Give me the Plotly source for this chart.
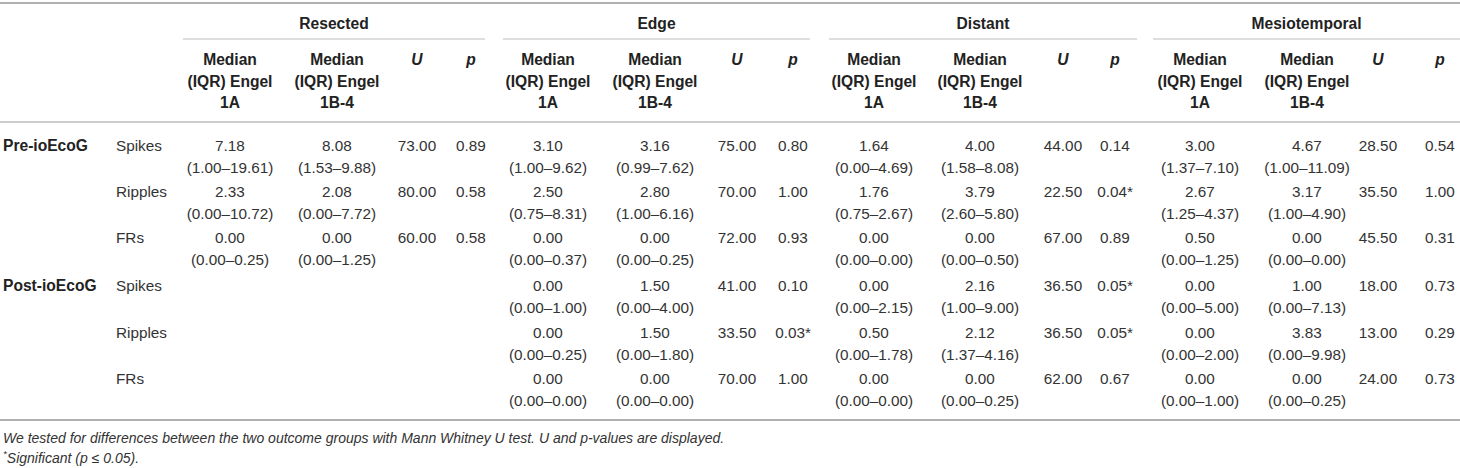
import plotly.graph_objects as go

# ---------------- data ----------------
regions = ["Resected", "Edge", "Distant", "Mesiotemporal"]
phases = ["Pre-ioEcoG", "Post-ioEcoG"]
measures = ["Spikes", "Ripples", "FRs", "Spikes", "Ripples", "FRs"]
sub_headers = [["Median", "(IQR) Engel", "1A"], ["Median", "(IQR) Engel", "1B-4"]]
stat_headers = ["U", "p"]

resected_med_1a = ["7.18", "2.33", "0.00", "", "", ""]
resected_iqr_1a = ["1.00–19.61", "0.00–10.72", "0.00–0.25", "", "", ""]
resected_med_1b = ["8.08", "2.08", "0.00", "", "", ""]
resected_iqr_1b = ["1.53–9.88", "0.00–7.72", "0.00–1.25", "", "", ""]
resected_u = ["73.00", "80.00", "60.00", "", "", ""]
resected_p = ["0.89", "0.58", "0.58", "", "", ""]

edge_med_1a = ["3.10", "2.50", "0.00", "0.00", "0.00", "0.00"]
edge_iqr_1a = ["1.00–9.62", "0.75–8.31", "0.00–0.37", "0.00–1.00", "0.00–0.25", "0.00–0.00"]
edge_med_1b = ["3.16", "2.80", "0.00", "1.50", "1.50", "0.00"]
edge_iqr_1b = ["0.99–7.62", "1.00–6.16", "0.00–0.25", "0.00–4.00", "0.00–1.80", "0.00–0.00"]
edge_u = ["75.00", "70.00", "72.00", "41.00", "33.50", "70.00"]
edge_p = ["0.80", "1.00", "0.93", "0.10", "0.03*", "1.00"]

distant_med_1a = ["1.64", "1.76", "0.00", "0.00", "0.50", "0.00"]
distant_iqr_1a = ["0.00–4.69", "0.75–2.67", "0.00–0.00", "0.00–2.15", "0.00–1.78", "0.00–0.00"]
distant_med_1b = ["4.00", "3.79", "0.00", "2.16", "2.12", "0.00"]
distant_iqr_1b = ["1.58–8.08", "2.60–5.80", "0.00–0.50", "1.00–9.00", "1.37–4.16", "0.00–0.25"]
distant_u = ["44.00", "22.50", "67.00", "36.50", "36.50", "62.00"]
distant_p = ["0.14", "0.04*", "0.89", "0.05*", "0.05*", "0.67"]

meso_med_1a = ["3.00", "2.67", "0.50", "0.00", "0.00", "0.00"]
meso_iqr_1a = ["1.37–7.10", "1.25–4.37", "0.00–1.25", "0.00–5.00", "0.00–2.00", "0.00–1.00"]
meso_med_1b = ["4.67", "3.17", "0.00", "1.00", "3.83", "0.00"]
meso_iqr_1b = ["1.00–11.09", "1.00–4.90", "0.00–0.00", "0.00–7.13", "0.00–9.98", "0.00–0.25"]
meso_u = ["28.50", "35.50", "45.50", "18.00", "13.00", "24.00"]
meso_p = ["0.54", "1.00", "0.31", "0.73", "0.29", "0.73"]

footnote_1 = "We tested for differences between the two outcome groups with Mann Whitney U test. U and p-values are displayed."
footnote_2 = "<sup>*</sup>Significant (p ≤ 0.05)."

region_data = [
    (resected_med_1a, resected_iqr_1a, resected_med_1b, resected_iqr_1b, resected_u, resected_p),
    (edge_med_1a, edge_iqr_1a, edge_med_1b, edge_iqr_1b, edge_u, edge_p),
    (distant_med_1a, distant_iqr_1a, distant_med_1b, distant_iqr_1b, distant_u, distant_p),
    (meso_med_1a, meso_iqr_1a, meso_med_1b, meso_iqr_1b, meso_u, meso_p),
]

# ---------------- layout constants ----------------
W, H = 1460, 468
FONT = "Liberation Sans, Arial, Helvetica, sans-serif"
TXT = "#333333"
HDR = "#222222"
LINE = "#bdbdbd"
FS = 15.3
FS_HDR = 15.6
FS_NOTE = 14
DY = 2  # small vertical correction for text anchoring

col_1a = [230, 548, 874, 1200]
col_1b = [337, 655, 980, 1307]
col_u = [417, 737, 1063, 1378]
col_p = [471, 793, 1115, 1440]
group_line = [(183, 485), (503, 810), (829, 1137), (1153, 1460)]
y_group = 23
y_sub = [59, 81, 102]
row_y = [145, 191, 237, 285, 332, 378]
iqr_dy = 22
x_phase = 3
x_measure = 116

fig = go.Figure()


def add_text(xs, ys, texts, anchor="middle center", size=FS, color=TXT, weight="normal", style="normal"):
    pts = [(x, y + DY, t) for x, y, t in zip(xs, ys, texts) if t]
    if not pts:
        return
    fig.add_trace(go.Scatter(
        x=[p[0] for p in pts], y=[p[1] for p in pts], text=[p[2] for p in pts],
        mode="text", textposition=anchor,
        textfont=dict(family=FONT, size=size, color=color, weight=weight, style=style),
        hoverinfo="skip", showlegend=False, cliponaxis=False,
    ))


# group headers
add_text([(a + b) / 2 for a, b in group_line], [y_group] * 4, regions, size=FS_HDR, weight="bold", color=HDR)

# sub headers
for g in range(4):
    for k in range(3):
        add_text([col_1a[g], col_1b[g]], [y_sub[k]] * 2,
                 [sub_headers[0][k], sub_headers[1][k]], size=FS_HDR, weight="bold", color=HDR)
    add_text([col_u[g], col_p[g]], [y_sub[0]] * 2, stat_headers, size=FS_HDR,
             weight="bold", style="italic", color=HDR)

# row labels
add_text([x_phase, x_phase], [row_y[0], row_y[3]], phases, anchor="middle right",
         size=FS_HDR, weight="bold", color=HDR)
add_text([x_measure] * 6, row_y, measures, anchor="middle right")

# body
for g, (m1, i1, m2, i2, u, p) in enumerate(region_data):
    add_text([col_1a[g]] * 6, row_y, m1)
    add_text([col_1a[g]] * 6, [y + iqr_dy for y in row_y], [f"({v})" if v else "" for v in i1])
    add_text([col_1b[g]] * 6, row_y, m2)
    add_text([col_1b[g]] * 6, [y + iqr_dy for y in row_y], [f"({v})" if v else "" for v in i2])
    add_text([col_u[g]] * 6, row_y, u)
    add_text([col_p[g]] * 6, row_y, p)

# footnotes
add_text([x_phase], [437], [footnote_1], anchor="middle right", size=FS_NOTE, style="italic")
add_text([x_phase], [457], [footnote_2], anchor="middle right", size=FS_NOTE, style="italic")

# rules
shapes = [
    dict(type="line", x0=0, x1=W, y0=3, y1=3, line=dict(color="#b0b0b0", width=2)),
    dict(type="line", x0=0, x1=W, y0=122, y1=122, line=dict(color=LINE, width=1.5)),
    dict(type="line", x0=0, x1=W, y0=420, y1=420, line=dict(color="#b0b0b0", width=2)),
]
for a, b in group_line:
    shapes.append(dict(type="line", x0=a, x1=b, y0=39, y1=39, line=dict(color=LINE, width=1.2)))
for s in shapes:
    s.update(xref="x", yref="y", layer="below")

fig.update_layout(
    width=W, height=H,
    margin=dict(l=0, r=0, t=0, b=0),
    paper_bgcolor="white", plot_bgcolor="white",
    xaxis=dict(range=[0, W], visible=False, fixedrange=True),
    yaxis=dict(range=[H, 0], visible=False, fixedrange=True),
    shapes=shapes,
)

fig.write_html(
    "out.html",
    config={"displayModeBar": False},
    post_script="document.body.style.margin='0';document.body.style.overflow='hidden';",
)
